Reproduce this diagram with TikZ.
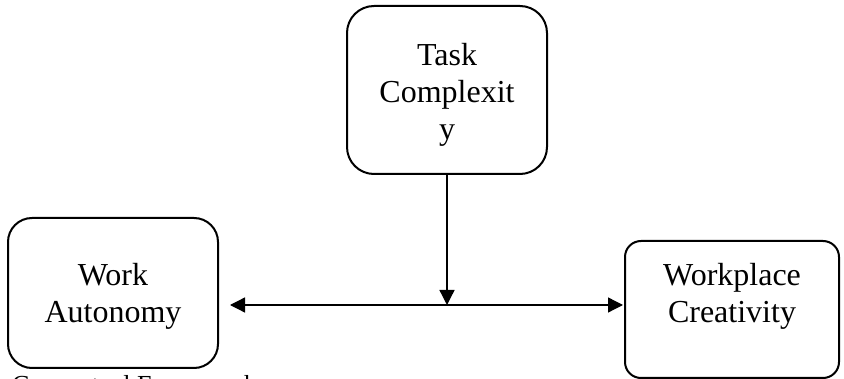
\documentclass[tikz,border=0pt]{standalone}
\usepackage{fontspec}
\setmainfont{Liberation Serif}
\usetikzlibrary{arrows.meta}
\begin{document}
\begin{tikzpicture}[x=1pt,y=-1pt,
  box/.style={draw, line width=2pt, rounded corners=#1, inner sep=0pt},
  box/.default=18pt,
  lbl/.style={inner sep=0pt, align=center, font=\fontsize{32}{37}\selectfont},
  figcap/.style={inner sep=0pt, anchor=base west, font=\fontsize{26}{30}\selectfont},
  link/.style={line width=1.3pt, -{Triangle[length=15pt,width=15pt]}},
  link2/.style={line width=1.3pt, {Triangle[length=15pt,width=15pt]}-{Triangle[length=15pt,width=15pt]}}]
\useasboundingbox (0,0) rectangle (844,379);
\clip (0,0) rectangle (844,379);

% the three constructs
\node[box=27pt, minimum width=200pt, minimum height=168pt] (tc) at (447,90) {};
\node[box=24pt, minimum width=210pt, minimum height=150pt] (wa) at (113,293) {};
\node[box=16pt, minimum width=214pt, minimum height=137pt] (wc) at (732,309.5) {};

\node[lbl] (tcl) at (447,94.6) {Task\\Complexit\\y};
\node[lbl] (wal) at (113,296) {Work\\Autonomy};
\node[lbl] (wcl) at (732,296) {Workplace\\Creativity};

% relations
\coordinate (hl) at (230,305);
\coordinate (hr) at ([xshift=-1pt]wc.west |- hl);
\coordinate (jn) at (tc.south |- hl);
\draw[link2] (hl) -- (hr);
\draw[link] (tc.south) -- (jn);

% caption below the figure
\node[figcap] (capt) at (12,394) {Conceptual Framework};
\end{tikzpicture}
\end{document}
